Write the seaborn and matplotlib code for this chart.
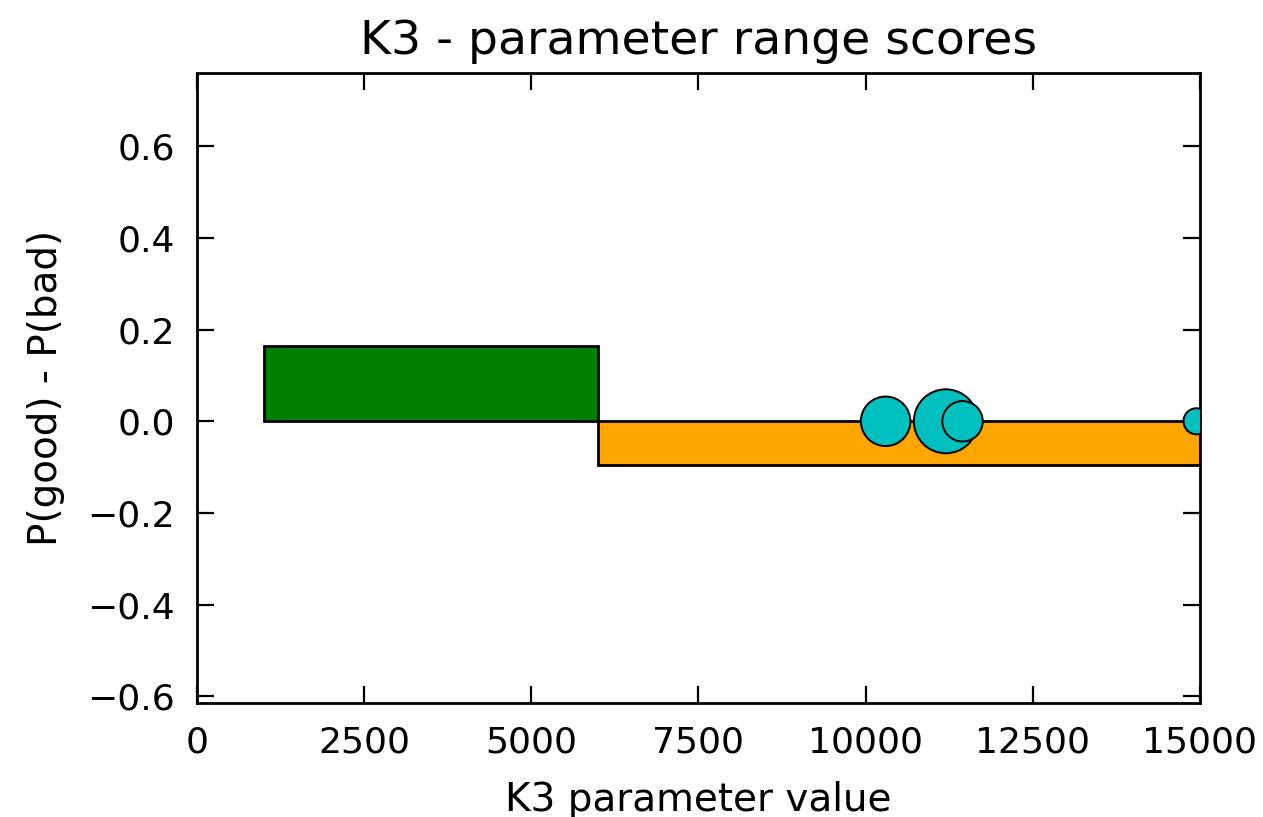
import matplotlib
matplotlib.use("Agg")
import matplotlib.pyplot as plt
import seaborn as sns
import pandas as pd

# ---- data ----
range_left = [1000, 6000]
range_right = [6000, 15000]
range_score = [0.165, -0.095]
range_colors = ["green", "orange"]

point_x = [10300, 11200, 11450, 14950]
point_y = [0.0, 0.0, 0.0, 0.0]
point_n = [18, 30, 12, 5]

title = "K3 - parameter range scores"
xlabel = "K3 parameter value"
ylabel = "P(good) - P(bad)"
xticks = [0, 2500, 5000, 7500, 10000, 12500, 15000]
yticks = [-0.6, -0.4, -0.2, 0.0, 0.2, 0.4, 0.6]

sns.set_style("white")
plt.rcParams["font.family"] = ["DejaVu Sans"]
plt.rcParams["axes.unicode_minus"] = True
plt.rcParams["text.color"] = "black"
plt.rcParams["axes.labelcolor"] = "black"
plt.rcParams["xtick.color"] = "black"
plt.rcParams["ytick.color"] = "black"

fig = plt.figure(figsize=(6.315, 4.085), dpi=200)
ax = fig.add_axes([0.156, 0.1395, 0.794, 0.771])

widths = [r - l for l, r in zip(range_left, range_right)]
ax.bar(range_left, range_score, width=widths, align="edge", color=range_colors,
       edgecolor="black", linewidth=1.0, zorder=2)

df = pd.DataFrame({"x": point_x, "y": point_y, "n": point_n})
sns.scatterplot(data=df, x="x", y="y", size="n", sizes=(88, 530), size_norm=(5, 30),
                color="#00BFBF", edgecolor="black", linewidth=0.7, alpha=1.0,
                legend=False, ax=ax, zorder=3)

ax.set_xlim(0, 15000)
ax.set_ylim(-0.615, 0.76)
ax.set_xticks(xticks)
ax.set_xticklabels([str(t) for t in xticks])
ax.set_yticks(yticks)
ax.set_yticklabels([f"{t:.1f}".replace("-", "\u2212") for t in yticks])
ax.tick_params(direction="in", length=6, width=0.8, top=True, right=True,
               bottom=True, left=True, labelsize=13, pad=8, color="black",
               labelcolor="black")
for s in ax.spines.values():
    s.set_visible(True)
    s.set_color("black")
    s.set_linewidth(1.0)

ax.set_title(title, fontsize=17, pad=7, color="black")
ax.set_xlabel(xlabel, fontsize=14, labelpad=8, color="black")
ax.set_ylabel(ylabel, fontsize=14, labelpad=8, color="black")

fig.savefig("out.png", dpi=200, facecolor="white")
